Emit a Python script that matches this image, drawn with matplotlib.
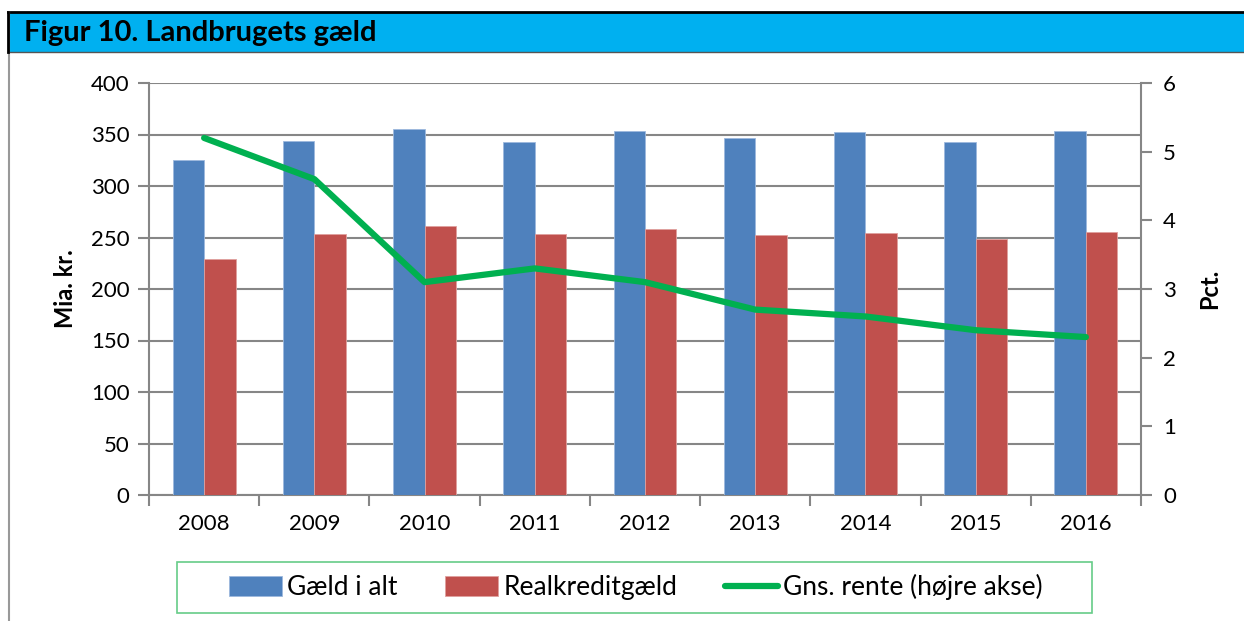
import matplotlib.pyplot as plt
import numpy as np
from matplotlib.patches import Rectangle
from matplotlib.lines import Line2D

plt.rcParams['font.family'] = ['Lato', 'DejaVu Sans']

# Data
years = ["2008", "2009", "2010", "2011", "2012", "2013", "2014", "2015", "2016"]
gaeld_i_alt = [325, 344, 355, 343, 353, 347, 352, 343, 353]
realkreditgaeld = [229, 253, 261, 253, 258, 252, 254, 249, 255]
gns_rente = [5.2, 4.6, 3.1, 3.3, 3.1, 2.7, 2.6, 2.4, 2.3]

BLUE = "#4F81BD"
RED = "#C0504D"
GREEN = "#00B050"
GRID = "#868686"

W, H = 1244, 621
fig = plt.figure(figsize=(W / 100, H / 100), dpi=100)

# Header band and border
fig.patches.append(Rectangle((8 / W, 1 - 52 / H), 1 - 8 / W, 40 / H,
                             transform=fig.transFigure, facecolor="#00B0F0",
                             edgecolor="none", zorder=0))
fig.lines.append(Line2D([8 / W, 1], [1 - 12 / H, 1 - 12 / H], transform=fig.transFigure,
                        color="black", lw=2))
fig.lines.append(Line2D([8 / W, 1], [1 - 52 / H, 1 - 52 / H], transform=fig.transFigure,
                        color="#555555", lw=1))
fig.lines.append(Line2D([9 / W, 9 / W], [1 - 12 / H, 0], transform=fig.transFigure,
                        color="#999999", lw=1.5))
fig.lines.append(Line2D([8 / W, 8 / W], [1 - 12 / H, 1 - 52 / H], transform=fig.transFigure,
                        color="black", lw=2))
fig.text(24 / W, 1 - 33 / H, "Figur 10. Landbrugets gæld", fontsize=21, fontweight="bold",
         va="center", ha="left")

ax = fig.add_axes([149 / W, 1 - 495 / H, (1141 - 149) / W, (495 - 83) / H])
x = np.arange(len(years))
bw = 0.285
ax.bar(x - bw / 2, gaeld_i_alt, bw, color=BLUE, edgecolor="#9DB9DE", linewidth=0.6,
       label="Gæld i alt", zorder=3)
ax.bar(x + bw / 2, realkreditgaeld, bw, color=RED, edgecolor="#E0A09E", linewidth=0.6,
       label="Realkreditgæld", zorder=3)
ax.set_xlim(-0.5, len(years) - 0.5)
ax.set_ylim(0, 400)
ax.set_yticks(range(0, 401, 50))
ax.grid(axis="y", color=GRID, lw=1.5, zorder=0)
ax.set_axisbelow(True)
ax.set_xticks(x)
ax.set_xticklabels(years, fontsize=16)
ax.set_xticks(np.arange(-0.5, len(years), 1), minor=True)
ax.tick_params(axis="x", which="major", length=0, pad=14)
ax.tick_params(axis="x", which="minor", length=8, width=1.5, color=GRID)
ax.tick_params(axis="y", labelsize=16, length=8, width=1.5, color=GRID, pad=6)
for s in ["top", "right"]:
    ax.spines[s].set_visible(False)
ax.spines["left"].set_color(GRID)
ax.spines["left"].set_linewidth(1.5)
ax.spines["bottom"].set_color(GRID)
ax.spines["bottom"].set_linewidth(1.5)
ax.set_ylabel("Mia. kr.", fontsize=17, fontweight="bold", labelpad=10)

ax2 = ax.twinx()
ax2.plot(x, gns_rente, color=GREEN, lw=4.5, solid_capstyle="round",
         label="Gns. rente (højre akse)", zorder=4)
ax2.set_ylim(0, 6)
ax2.set_yticks(range(0, 7))
ax2.tick_params(axis="y", labelsize=16, length=8, width=1.5, color=GRID, pad=8)
for s in ["top", "left", "bottom"]:
    ax2.spines[s].set_visible(False)
ax2.spines["right"].set_color(GRID)
ax2.spines["right"].set_linewidth(1.5)
ax2.set_ylabel("Pct.", fontsize=17, fontweight="bold", labelpad=16)

# Legend with its own frame
fig.patches.append(Rectangle((177 / W, 1 - 613 / H), (1092 - 177) / W, (613 - 562) / H,
                             transform=fig.transFigure, facecolor="white",
                             edgecolor="#66CC88", lw=1.2))
h1, l1 = ax.get_legend_handles_labels()
h2, l2 = ax2.get_legend_handles_labels()
leg = fig.legend(h1 + h2, l1 + l2, loc="center",
                 bbox_to_anchor=((222 + 1050) / 2 / W, 1 - 587 / H), ncol=3, fontsize=19,
                 frameon=False, handlelength=2.0, handleheight=0.75,
                 handletextpad=0.2, columnspacing=1.8, borderpad=0.0)

fig.savefig("out.png", dpi=100)
